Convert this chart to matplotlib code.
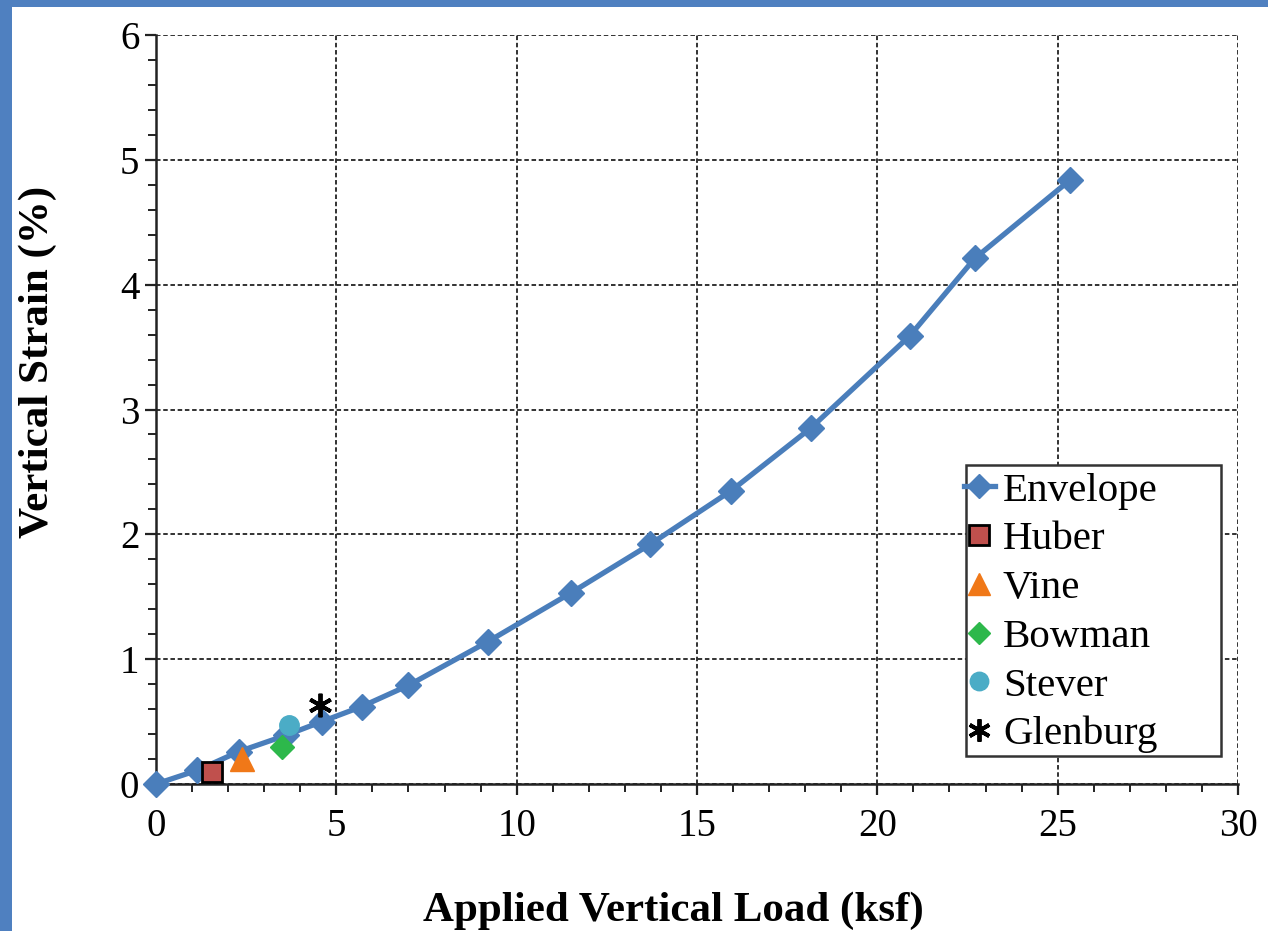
import matplotlib
matplotlib.use("Agg")
import matplotlib.pyplot as plt
import matplotlib.patches as patches
from matplotlib.ticker import MultipleLocator

plt.rcParams['font.family'] = ['Liberation Serif', 'DejaVu Serif']

# Envelope curve
env_load = [0, 1.15, 2.3, 3.6, 4.6, 5.7, 7.0, 9.2, 11.5, 13.7, 15.95, 18.15, 20.9, 22.7, 25.35]
env_strain = [0, 0.11, 0.26, 0.39, 0.5, 0.62, 0.79, 1.14, 1.53, 1.92, 2.35, 2.85, 3.59, 4.21, 4.84]

# individual sites
sites = ["Huber", "Vine", "Bowman", "Stever", "Glenburg"]
site_load = [1.55, 2.38, 3.5, 3.7, 4.55]
site_strain = [0.1, 0.2, 0.3, 0.47, 0.63]

fig = plt.figure(figsize=(12.68, 9.31), dpi=100)
fig.patch.set_facecolor('#4f80c0')
# white page over the blue slide background
fig.patches.append(patches.Rectangle((12 / 1268, 0), 1, 1 - 7 / 931,
                                     transform=fig.transFigure, facecolor='white',
                                     edgecolor='none', zorder=-10))

ax = fig.add_axes([156 / 1268, 1 - 784 / 931, (1238 - 156) / 1268, (784 - 35) / 931])
ax.set_facecolor('white')

ax.plot(env_load, env_strain, color='#4a7ebb', lw=3.8, marker='D', markersize=13,
        label='Envelope', zorder=3, clip_on=False)

styles = {
    "Huber": dict(marker='s', color='#c0504d', markeredgecolor='black', markersize=15, mew=2),
    "Vine": dict(marker='^', color='#f07818', markeredgecolor='#f07818', markersize=17),
    "Bowman": dict(marker='D', color='#2db84b', markeredgecolor='#2db84b', markersize=12),
    "Stever": dict(marker='o', color='#4bacc6', markeredgecolor='#4bacc6', markersize=14),
    "Glenburg": dict(marker=(6, 2, 0), color='black', markersize=17, mew=2.8),
}
for name, x, y in zip(sites, site_load, site_strain):
    ax.plot([x], [y], linestyle='none', label=name, zorder=4, **styles[name])

ax.set_xlim(0, 30)
ax.set_ylim(0, 6)
ax.xaxis.set_major_locator(MultipleLocator(5))
ax.xaxis.set_minor_locator(MultipleLocator(1))
ax.yaxis.set_major_locator(MultipleLocator(1))
ax.yaxis.set_minor_locator(MultipleLocator(0.2))

ax.grid(True, which='major', color='#222222', linestyle=(0, (2.5, 1.5)), lw=1.3)
ax.spines['top'].set_visible(False)
ax.spines['right'].set_visible(False)
for s in ['left', 'bottom']:
    ax.spines[s].set_linewidth(1.8)
    ax.spines[s].set_color('#222222')

ax.tick_params(which='major', direction='out', length=8, width=1.6, labelsize=28,
               pad=4, color='#222222')
ax.tick_params(axis='x', which='major', pad=9)
ax.tick_params(which='minor', direction='out', length=6, width=1.4, color='#222222')

ax.set_xlabel('Applied Vertical Load (ksf)', fontsize=31, fontweight='bold')
ax.xaxis.set_label_coords(0.478, -0.143)
ax.set_ylabel('Vertical Strain (%)', fontsize=31, fontweight='bold')
ax.yaxis.set_label_coords(-0.0915, 0.563)

# legend box drawn by hand to match the wide frame
ax.add_patch(patches.Rectangle((966 / 1268, 1 - 756 / 931), 255 / 1268, 291 / 931,
                               transform=fig.transFigure, facecolor='white',
                               edgecolor='#333333', lw=1.8, zorder=5, clip_on=False))
leg = ax.legend(loc='upper left', bbox_to_anchor=(964 / 1268, 1 - 472 / 931),
                bbox_transform=fig.transFigure, fontsize=29.5, frameon=False,
                handlelength=0.75, handletextpad=0.2, borderpad=0.0,
                labelspacing=0.27, borderaxespad=0, markerscale=0.95)
leg.set_zorder(6)

fig.savefig('out.png', dpi=100, facecolor=fig.get_facecolor())
